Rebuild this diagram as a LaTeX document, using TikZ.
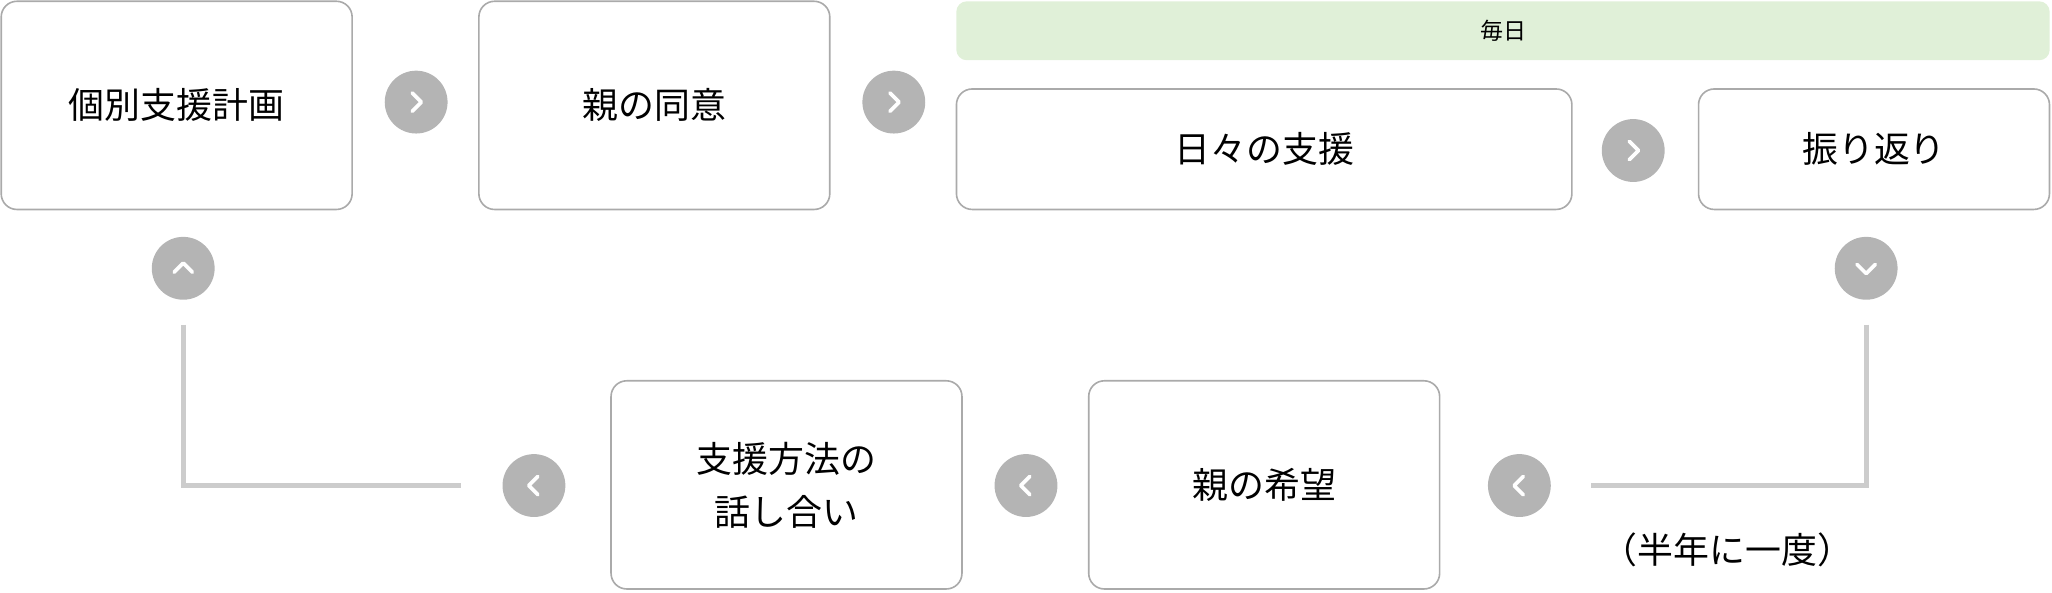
\documentclass[tikz,border=0pt]{standalone}
\usepackage{fontspec}
\setmainfont{Noto Sans CJK JP}
\usetikzlibrary{positioning}
\definecolor{boxline}{RGB}{170,170,170}
\definecolor{dotgray}{RGB}{180,180,180}
\definecolor{flowline}{RGB}{204,204,204}
\definecolor{daygreen}{RGB}{224,240,216}
\tikzset{
  stage/.style={rectangle, rounded corners=0.12cm, draw=boxline, line width=0.35pt, fill=white, align=center, font=\fontsize{7.8}{11.5}\selectfont},
  stepdot/.style={circle, fill=dotgray, minimum size=0.48cm, inner sep=0pt},
  chevron/.style={white, line width=0.8pt, line cap=round, line join=round},
  flow/.style={flowline, line width=1.1pt}
}
% chevron in a dot: name, x, y, angle
\newcommand{\stepdotat}[4]{%
  \node[stepdot] (#1) at (#2,#3) {};
  \draw[chevron, rotate around={#4:(#1.center)}] ([shift={(-3,-7)}]#1.center) -- ([shift={(4,0)}]#1.center) -- ([shift={(-3,7)}]#1.center);
}
\begin{document}
\begin{tikzpicture}[x=0.01cm, y=-0.01cm]
\useasboundingbox (0,0) rectangle (1568,452.4);

% top row
\node[stage, minimum width=2.68cm, minimum height=1.59cm] (plan) at (135,80.5) {個別支援計画};
\node[stage, minimum width=2.68cm, minimum height=1.59cm] (consent) at (500,80.5) {親の同意};
\node[rectangle, rounded corners=0.08cm, fill=daygreen, minimum width=8.35cm, minimum height=0.45cm, font=\fontsize{5}{6}\selectfont] (daily) at (1148.5,23.5) {毎日};
\node[stage, minimum width=4.7cm, minimum height=0.92cm] (support) at (966,114) {日々の支援};
\node[stage, minimum width=2.68cm, minimum height=0.92cm] (review) at (1432,114) {振り返り};

% bottom row
\node[stage, minimum width=2.68cm, minimum height=1.59cm] (method) at (601,370.5) {支援方法の\\話し合い};
\node[stage, minimum width=2.68cm, minimum height=1.59cm] (wish) at (966,370.5) {親の希望};
\node[font=\fontsize{7.8}{10}\selectfont] (often) at (1320,420) {（半年に一度）};

% dots
\stepdotat{d1}{318}{78}{0}
\stepdotat{d2}{683}{78}{0}
\stepdotat{d3}{1248}{115}{0}
\stepdotat{d4}{1426}{205}{-90}
\stepdotat{d5}{1161}{371}{180}
\stepdotat{d6}{784}{371}{180}
\stepdotat{d7}{408}{371}{180}
\stepdotat{d8}{140}{205}{90}

% return lines
\coordinate (rtop) at (1426,248);
\coordinate (rend) at (1216,371);
\coordinate (ltop) at (140,248);
\coordinate (lend) at (352,371);
\draw[flow] (rtop) |- (rend);
\draw[flow] (ltop) |- (lend);
\end{tikzpicture}
\end{document}
